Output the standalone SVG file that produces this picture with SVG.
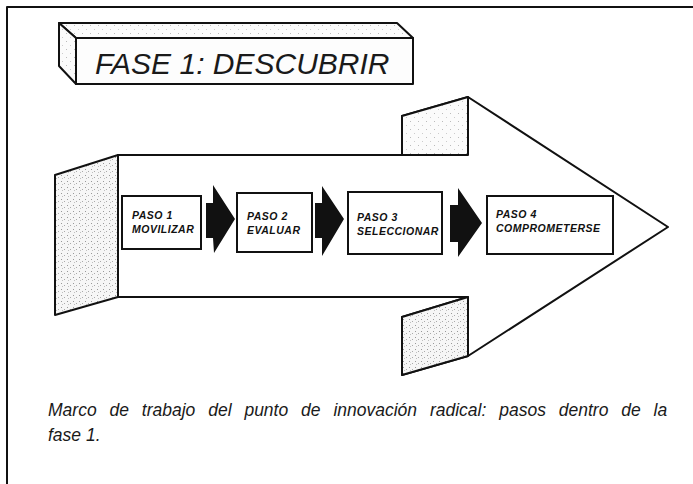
<svg xmlns="http://www.w3.org/2000/svg" width="693" height="484" viewBox="0 0 693 484">
  <defs>
    <pattern id="stipple" width="6" height="6" patternUnits="userSpaceOnUse">
      <rect width="6" height="6" fill="#f6f6f6"/>
      <rect x="1" y="1" width="1" height="1" fill="#999"/>
      <rect x="4" y="3" width="1" height="1" fill="#aaa"/>
      <rect x="2" y="4" width="1" height="1" fill="#c0c0c0"/>
    </pattern>
    <pattern id="stippleLight" width="8" height="8" patternUnits="userSpaceOnUse">
      <rect width="8" height="8" fill="#fbfbfb"/>
      <rect x="2" y="1" width="1" height="1" fill="#bbb"/>
      <rect x="6" y="5" width="1" height="1" fill="#ccc"/>
    </pattern>
  </defs>
  <style>
    .ln { fill: none; stroke: #111; stroke-width: 2; stroke-linejoin: round; }
    .face { stroke: #111; stroke-width: 2; stroke-linejoin: round; }
    .box { fill: #fff; stroke: #111; stroke-width: 2; }
    .step { font-family: "Liberation Sans", Arial, sans-serif; font-size: 10.5px; font-weight: bold; font-style: italic; letter-spacing: 0.5px; fill: #111; }
    .title { font-family: "Liberation Sans", Arial, sans-serif; font-size: 30px; font-style: italic; fill: #1a1a1a; }
    .caption { font-family: "Liberation Sans", Arial, sans-serif; font-size: 17.5px; font-style: italic; fill: #1a1a1a; }
    .blk { fill: #111; stroke: none; }
  </style>

  <rect width="693" height="484" fill="#fff"/>

  <g id="frame">
    <polyline class="ln" points="7,484 7,7 693,7"/>
  </g>

  <g id="title">
    <polygon class="face" fill="url(#stippleLight)" points="59,23 397,23 413,38 76,38"/>
    <polygon class="face" fill="url(#stippleLight)" points="59,23 76,38 76,84 59,66"/>
    <rect class="face" fill="#fdfdfd" x="76" y="38" width="337" height="46"/>
    <text class="title" x="95" y="74">FASE 1: DESCUBRIR</text>
  </g>

  <g id="big-arrow">
    <polygon class="face" fill="#fff" points="118,155 402,155 402,116 468,97 668,227 468,356 402,375 402,317 468,297 118,297"/>
    <polygon class="face" fill="url(#stipple)" points="55,175 118,155 118,297 55,315"/>
    <polygon class="face" fill="url(#stippleLight)" points="402,116 468,97 468,155 402,155"/>
    <polygon class="face" fill="url(#stipple)" points="402,317 468,297 468,356 402,375"/>
  </g>

  <g id="step1">
    <rect class="box" x="122" y="196" width="79" height="53"/>
    <text class="step" x="132" y="219">PASO 1</text>
    <text class="step" x="132" y="233">MOVILIZAR</text>
  </g>
  <g id="step2">
    <rect class="box" x="237" y="193" width="75" height="59"/>
    <text class="step" x="247" y="220">PASO 2</text>
    <text class="step" x="247" y="234">EVALUAR</text>
  </g>
  <g id="step3">
    <rect class="box" x="348" y="192" width="94" height="62"/>
    <text class="step" x="357" y="221">PASO 3</text>
    <text class="step" x="357" y="235">SELECCIONAR</text>
  </g>
  <g id="step4">
    <rect class="box" x="487" y="196" width="126" height="58"/>
    <text class="step" x="496" y="218">PASO 4</text>
    <text class="step" x="496" y="232">COMPROMETERSE</text>
  </g>

  <g id="connectors">
    <polygon class="blk" points="206,203 213,203 213,185 235,219 214,253 213,238 206,238"/>
    <polygon class="blk" points="315,203 322,203 322,186 344,219 322,256 322,238 315,238"/>
    <polygon class="blk" points="450,205 458,205 458,188 482,223 458,257 458,242 450,242"/>
  </g>

  <g id="caption">
    <text class="caption" x="48" y="416" word-spacing="8">Marco de trabajo del punto de innovación radical: pasos dentro de la</text>
    <text class="caption" x="48" y="441">fase 1.</text>
  </g>
</svg>
